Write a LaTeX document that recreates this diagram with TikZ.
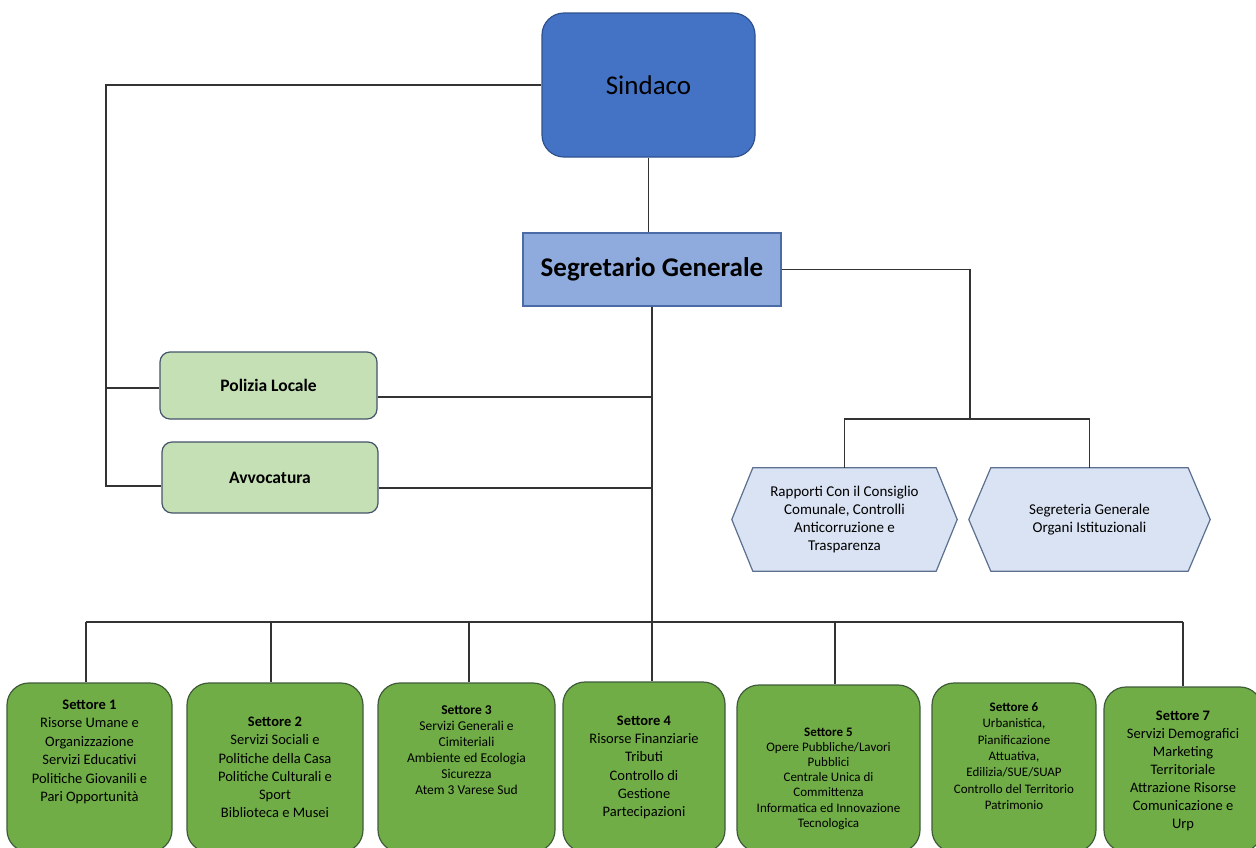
\documentclass[tikz,border=0pt]{standalone}
\usepackage{fontspec}
\setmainfont{Carlito}
\usetikzlibrary{calc,backgrounds}
\definecolor{sindacoblue}{HTML}{4472C4}
\definecolor{sindacoedge}{HTML}{2F528F}
\definecolor{segblue}{HTML}{8FAADC}
\definecolor{segedge}{HTML}{4A6BA6}
\definecolor{lightgreen}{HTML}{C5E0B4}
\definecolor{greenedge}{HTML}{44546A}
\definecolor{hexfill}{HTML}{DAE3F3}
\definecolor{hexedge}{HTML}{5B6F8E}
\definecolor{settgreen}{HTML}{70AD47}
\definecolor{settedge}{HTML}{3F5B3A}
\definecolor{linecol}{HTML}{333333}
\begin{document}
\begin{tikzpicture}[x=1pt,y=-1pt,
  conn/.style={draw=linecol, line width=1.1pt},
  sindacobox/.style={draw=sindacoedge, fill=sindacoblue, line width=1.2pt, rounded corners=22pt,
    minimum width=213pt, minimum height=144pt, inner sep=0pt, font=\fontsize{27}{32}\selectfont},
  segbox/.style={draw=segedge, fill=segblue, line width=1.2pt,
    minimum width=258pt, minimum height=73pt, inner sep=0pt, font=\fontsize{27}{32}\selectfont\bfseries},
  staffbox/.style={draw=greenedge, fill=lightgreen, line width=1.2pt, rounded corners=10pt,
    inner sep=0pt, font=\fontsize{17.5}{21}\selectfont\bfseries},
  hexbox/.style={inner sep=0pt, minimum height=103pt, align=center},
  hexline/.style={draw=hexedge, fill=hexfill, line width=1.2pt},
  settbox/.style={draw=settedge, fill=settgreen, line width=1.2pt, rounded corners=22pt, inner sep=0pt},
  setttext/.style={align=center, inner sep=0pt},
]
\useasboundingbox (0,0) rectangle (1256,847);
\clip (0,0) rectangle (1256,847);

% top
\node[sindacobox] (sind) at (648.5,85) {Sindaco};
\node[segbox] (seg) at (652,269.5) {Segretario Generale};

% staff
\node[staffbox, minimum width=217pt, minimum height=67pt] (pol) at (268.5,385.5) {Polizia Locale};
\node[staffbox, minimum width=216pt, minimum height=71pt] (avv) at (270,477.5) {Avvocatura};

% hexagons
\node[hexbox, minimum width=225pt, font=\fontsize{15}{18.3}\selectfont] (h1) at (844.5,519.5)
  {Rapporti Con il Consiglio\\Comunale, Controlli\\Anticorruzione e\\Trasparenza};
\node[hexbox, minimum width=241pt, font=\fontsize{15}{17.5}\selectfont] (h2) at (1089.5,519.5)
  {Segreteria Generale\\Organi Istituzionali};
\begin{scope}[on background layer]
\draw[hexline] ($(h1.north west)+(21,0)$) -- ($(h1.north east)+(-21,0)$) -- (h1.east)
  -- ($(h1.south east)+(-21,0)$) -- ($(h1.south west)+(21,0)$) -- (h1.west) -- cycle;
\draw[hexline] ($(h2.north west)+(22,0)$) -- ($(h2.north east)+(-22,0)$) -- (h2.east)
  -- ($(h2.south east)+(-22,0)$) -- ($(h2.south west)+(22,0)$) -- (h2.west) -- cycle;
\end{scope}

% settori boxes
\node[settbox, minimum width=165pt, minimum height=169pt] (s1) at (89.5,767.5) {};
\node[settbox, minimum width=176pt, minimum height=169pt] (s2) at (275,767.5) {};
\node[settbox, minimum width=177pt, minimum height=169pt] (s3) at (466.5,767.5) {};
\node[settbox, minimum width=162pt, minimum height=170pt] (s4) at (644,767) {};
\node[settbox, minimum width=183pt, minimum height=167pt] (s5) at (828.5,768.5) {};
\node[settbox, minimum width=164pt, minimum height=169pt] (s6) at (1014,767.5) {};
\node[settbox, minimum width=158pt, minimum height=165pt] (s7) at (1183,769.5) {};

% settori texts
\node[setttext, font=\fontsize{14.5}{18.4}\selectfont] (s1t) at (89.5,752)
  {\textbf{Settore 1}\\Risorse Umane e\\Organizzazione\\Servizi Educativi\\Politiche Giovanili e\\Pari Opportunità};
\node[setttext, font=\fontsize{14.5}{18.2}\selectfont] (s2t) at (275,767.5)
  {\textbf{Settore 2}\\Servizi Sociali e\\Politiche della Casa\\Politiche Culturali e\\Sport\\Biblioteca e Musei};
\node[setttext, font=\fontsize{13.5}{16}\selectfont] (s3t) at (466.5,750)
  {\textbf{Settore 3}\\Servizi Generali e\\Cimiteriali\\Ambiente ed Ecologia\\Sicurezza\\Atem 3 Varese Sud};
\node[setttext, font=\fontsize{14.5}{18.2}\selectfont] (s4t) at (644,767.5)
  {\textbf{Settore 4}\\Risorse Finanziarie\\Tributi\\Controllo di\\Gestione\\Partecipazioni};
\node[setttext, font=\fontsize{13}{15.2}\selectfont] (s5t) at (828.5,778.5)
  {\textbf{Settore 5}\\Opere Pubbliche/Lavori\\Pubblici\\Centrale Unica di\\Committenza\\Informatica ed Innovazione\\Tecnologica};
\node[setttext, font=\fontsize{13}{16.3}\selectfont] (s6t) at (1014,756)
  {\textbf{Settore 6}\\Urbanistica,\\Pianificazione\\Attuativa,\\Edilizia/SUE/SUAP\\Controllo del Territorio\\Patrimonio};
\node[setttext, font=\fontsize{14.5}{18}\selectfont] (s7t) at (1183,771)
  {\textbf{Settore 7}\\Servizi Demografici\\Marketing\\Territoriale\\Attrazione Risorse\\Comunicazione e\\Urp};

% coordinates
\coordinate (lt) at (106,86);
\coordinate (lp) at (106,388);
\coordinate (la) at (106,486);
\coordinate (pr) at (651,397);
\coordinate (ar) at (651,488);
\coordinate (rj) at (970,419);
\coordinate (b1) at (86,622);
\coordinate (b2) at (271,622);
\coordinate (b3) at (469,622);
\coordinate (b5) at (835,622);
\coordinate (b7) at (1183,622);

% connectors
\draw[conn] (sind.south) -- (sind.south |- seg.north);
\draw[conn] (sind.west) -- (sind.west -| lt) -- (la) -- (la -| avv.west);
\draw[conn] (lp) -- (lp -| pol.west);
\draw[conn] (pol.east |- pr) -- (pr);
\draw[conn] (avv.east |- ar) -- (ar);
\draw[conn] (seg.south) -- (seg.south |- s4.north);
\draw[conn] (seg.east) -| (rj);
\draw[conn] (h1.north) -- (h1.north |- rj) -- (h2.north |- rj) -- (h2.north);
\draw[conn] (b1) -- (b7);
\draw[conn] (b1) -- (b1 |- s1.north);
\draw[conn] (b2) -- (b2 |- s2.north);
\draw[conn] (b3) -- (b3 |- s3.north);
\draw[conn] (b5) -- (b5 |- s5.north);
\draw[conn] (b7) -- (b7 |- s7.north);
\end{tikzpicture}
\end{document}
